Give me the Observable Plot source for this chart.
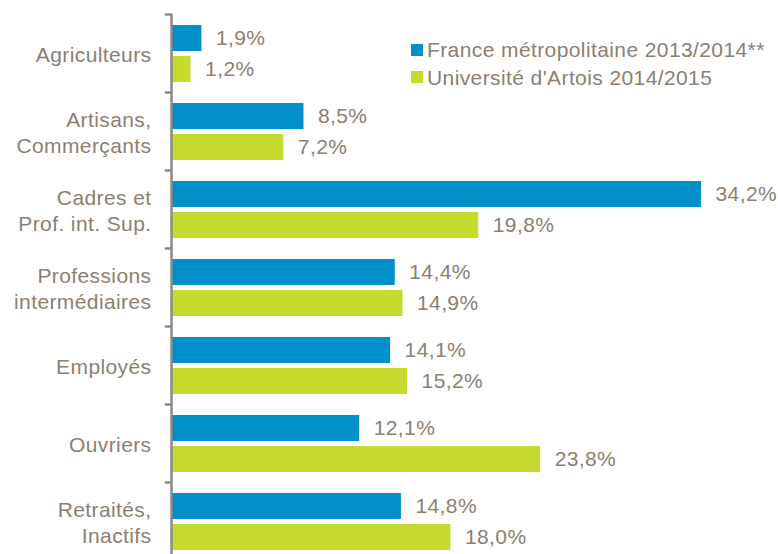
<!DOCTYPE html>
<html>
<head>
<meta charset="utf-8">
<script src="https://cdn.jsdelivr.net/npm/d3@7"></script>
<script src="https://cdn.jsdelivr.net/npm/@observablehq/plot@0.6"></script>
<style>
  html, body { margin: 0; padding: 0; background: #fff; }
  #wrap { position: relative; width: 778px; height: 554px; overflow: hidden; }
  .ff { font-family: "Liberation Sans", Arial, sans-serif; }
  #legend { position: absolute; left: 411px; top: 36px; color: #8b8070; font-size: 21px; letter-spacing: 0.4px; line-height: 27.5px; }
  #legend .row { display: flex; align-items: center; white-space: nowrap; }
  #legend .sw { width: 12px; height: 12px; margin-right: 4px; display: inline-block; }
</style>
</head>
<body>
<div id="wrap" class="ff"></div>
<script>
const categories = ["Agriculteurs", "Artisans,\nCommerçants", "Cadres et\nProf. int. Sup.", "Professions\nintermédiaires", "Employés", "Ouvriers", "Retraités,\nInactifs"];
const seriesNames = ["France métropolitaine 2013/2014**", "Université d'Artois 2014/2015"];
const france = [1.9, 8.5, 34.2, 14.4, 14.1, 12.1, 14.8];
const artois = [1.2, 7.2, 19.8, 14.9, 15.2, 23.8, 18.0];
const colors = ["#008fc8", "#c6d92e"];
const textColor = "#8b8070";

const fmt = v => v.toFixed(1).replace(".", ",") + "%";
const dataF = categories.map((c, i) => ({cat: c, v: france[i]}));
const dataA = categories.map((c, i) => ({cat: c, v: artois[i]}));

const fontFamily = '"Liberation Sans", Arial, sans-serif';

const chart = Plot.plot({
  width: 778,
  height: 554,
  marginLeft: 172,
  marginRight: 77,
  marginTop: 14,
  marginBottom: 0,
  style: {fontFamily, letterSpacing: "0.4px", background: "#fff"},
  x: {domain: [0, 34.2], axis: null},
  y: {domain: categories, range: [14, 560], padding: 0, axis: null},
  marks: [
    Plot.barX(dataF, {x: "v", y: "cat", fill: colors[0], insetTop: 11, insetBottom: 41}),
    Plot.barX(dataA, {x: "v", y: "cat", fill: colors[1], insetTop: 42, insetBottom: 10}),
    Plot.text(dataF, {x: "v", y: "cat", text: d => fmt(d.v), dx: 14, dy: -15, textAnchor: "start", fill: textColor, fontSize: 21}),
    Plot.text(dataA, {x: "v", y: "cat", text: d => fmt(d.v), dx: 14, dy: 16, textAnchor: "start", fill: textColor, fontSize: 21}),
    Plot.text(categories, {y: d => d, frameAnchor: "left", textAnchor: "end", dx: -21, lineHeight: 1.24, fill: textColor, fontSize: 21}),
    Plot.ruleY(categories, {y: d => d, dy: -39, x1: -0.47, x2: 0, stroke: "#8a8a8a", strokeWidth: 2.5}),
    Plot.ruleX([0], {stroke: "#8a8a8a", strokeWidth: 2.5, dx: -1})
  ]
});
document.getElementById("wrap").appendChild(chart);

const legend = document.createElement("div");
legend.id = "legend";
legend.className = "ff";
seriesNames.forEach((name, i) => {
  const row = document.createElement("div");
  row.className = "row";
  const sw = document.createElement("span");
  sw.className = "sw";
  sw.style.background = colors[i];
  const t = document.createElement("span");
  t.textContent = name;
  row.appendChild(sw);
  row.appendChild(t);
  legend.appendChild(row);
});
document.getElementById("wrap").appendChild(legend);
</script>
</body>
</html>
